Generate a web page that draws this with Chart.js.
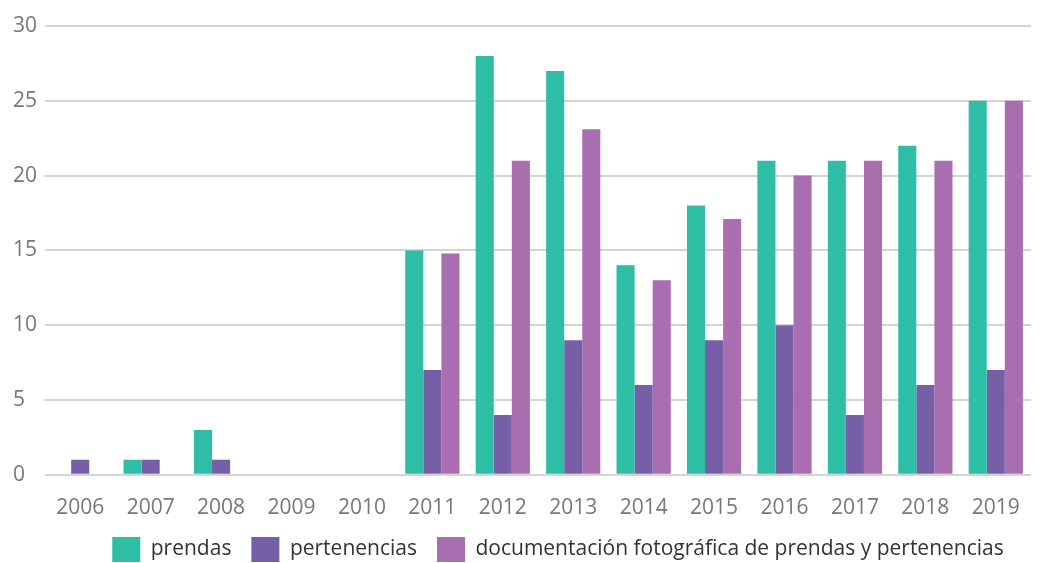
<!DOCTYPE html>
<html>
<head>
<meta charset="utf-8">
<script src="https://cdn.jsdelivr.net/npm/chart.js@4"></script>
<style>
  html, body { margin: 0; padding: 0; background: #fff; }
  #wrap { width: 1043px; height: 563px; }
</style>
</head>
<body>
<div id="wrap"><canvas id="grafico"></canvas></div>
<script>
const anos = ["2006", "2007", "2008", "2009", "2010", "2011", "2012", "2013", "2014", "2015", "2016", "2017", "2018", "2019"];
const prendas = [0, 1, 3, 0, 0, 15, 28, 27, 14, 18, 21, 21, 22, 25];
const pertenencias = [1, 1, 1, 0, 0, 7, 4, 9, 6, 9, 10, 4, 6, 7];
const documentacion = [0, 0, 0, 0, 0, 14.8, 21, 23.1, 13, 17.1, 20, 21, 21, 25];
const ticksY = [0, 5, 10, 15, 20, 25, 30];

// acomoda la leyenda: un poco a la derecha y mas pegada al eje, como en el original
const moverLeyenda = {
  id: "moverLeyenda",
  afterLayout(chart) {
    chart.legend.left += 36;
    chart.legend.right += 36;
    chart.legend.top -= 25;
    chart.legend.bottom -= 25;
  },
};

const ctx = document.getElementById("grafico").getContext("2d");
const grafico = new Chart(ctx, {
  type: "bar",
  data: {
    labels: anos,
    datasets: [
      { label: "prendas", data: prendas, backgroundColor: "#2EBDA5" },
      { label: "pertenencias", data: pertenencias, backgroundColor: "#775FA8" },
      { label: "documentación fotográfica de prendas y pertenencias", data: documentacion, backgroundColor: "#A86EB0" },
    ],
  },
  plugins: [moverLeyenda],
  options: {
    responsive: true,
    maintainAspectRatio: false,
    animation: false,
    layout: { padding: { top: 26, right: 12, left: 13, bottom: -34 } },
    datasets: { bar: { categoryPercentage: 0.77, barPercentage: 1 } },
    plugins: {
      tooltip: { enabled: false },
      legend: {
        position: "bottom",
        labels: {
          boxWidth: 28,
          boxHeight: 25,
          padding: 20,
          color: "#333",
          font: { family: "Open Sans", size: 21 },
        },
      },
    },
    scales: {
      x: {
        grid: { display: false, drawTicks: false },
        border: { display: false },
        ticks: { color: "#777", font: { family: "Open Sans", size: 21 }, padding: 21 },
      },
      y: {
        min: 0,
        max: 30,
        afterBuildTicks: (axis) => { axis.ticks = ticksY.map((v) => ({ value: v })); },
        grid: { color: "#d4d4d4", lineWidth: 2, drawTicks: false },
        border: { display: false },
        ticks: { color: "#777", font: { family: "Open Sans", size: 21 }, padding: 4, crossAlign: "far" },
      },
    },
  },
});
</script>
</body>
</html>
